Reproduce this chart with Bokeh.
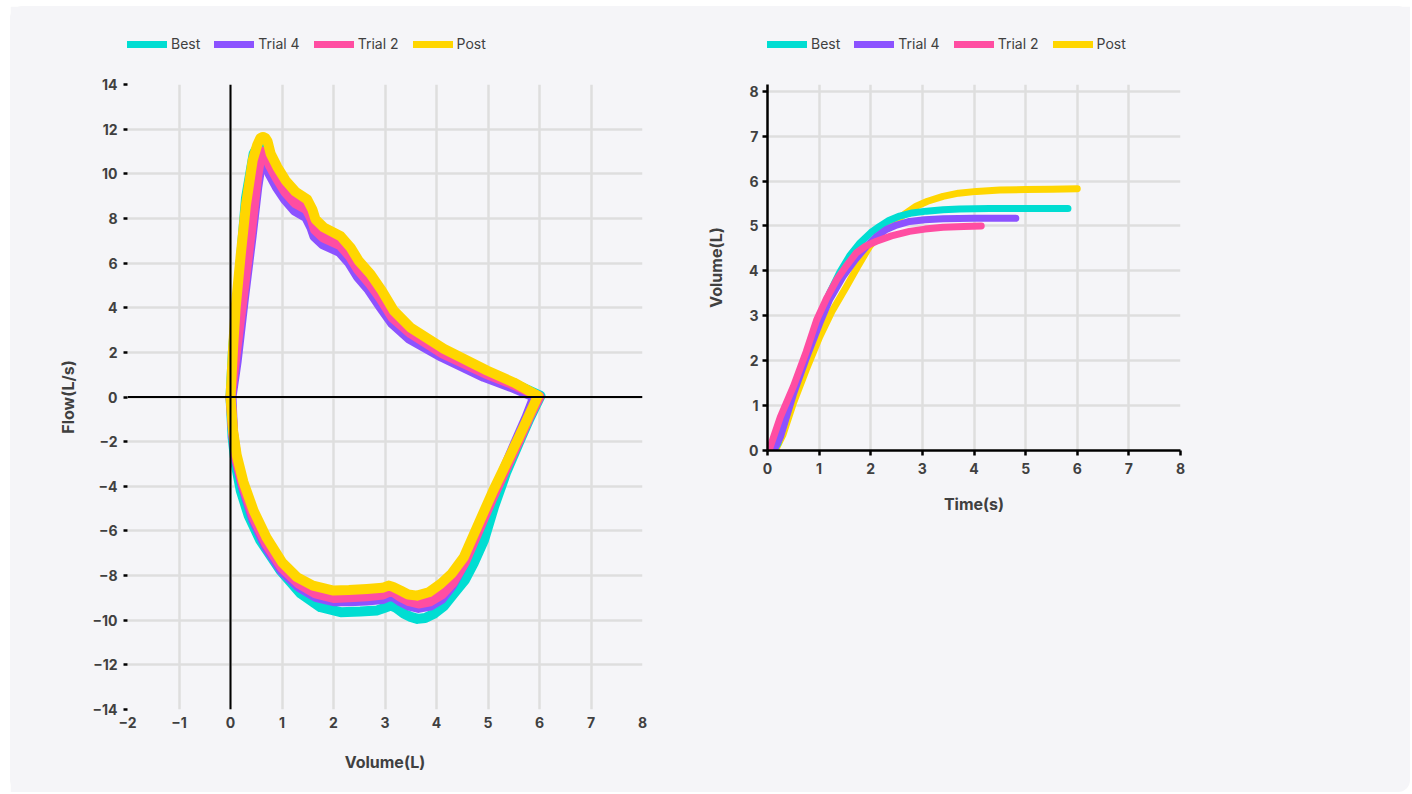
from bokeh.plotting import figure
from bokeh.models import Legend, LegendItem, Span, SingleIntervalTicker, FixedTicker, Range1d
from bokeh.layouts import row, column
from bokeh.embed import file_html
from bokeh.resources import INLINE

# ---------------- data ----------------
series_names = ["Best", "Trial 4", "Trial 2", "Post"]
series_colors = ["#00DDD2", "#8C52FF", "#FF4DA2", "#FFD600"]

# Flow-volume loops: expiration (0 -> ~6 L) then inspiration (back to 0)
best_vol = [0, 0.05, 0.14, 0.3, 0.45, 0.56, 0.63, 0.71, 0.78, 0.92, 1.08, 1.27, 1.5, 1.6, 1.67, 1.83, 2.15, 2.35, 2.5,
            2.73, 2.95, 3.2, 3.55, 4.15, 5.0, 5.5, 6.02,
            5.8, 5.6, 5.35, 5.12, 4.92, 4.72, 4.55, 4.34, 4.15, 3.95, 3.78, 3.63, 3.5, 3.37, 3.22, 3.11, 2.98, 2.85,
            2.52, 2.14, 1.75, 1.36, 0.97, 0.58, 0.35, 0.2, 0.1, 0.04, 0]
best_flow = [0, 2.2, 4.4, 8.9, 10.9, 11.35, 11.4, 11.2, 10.6, 10.0, 9.4, 8.9, 8.55, 8.1, 7.65, 7.3, 6.95, 6.45, 5.85,
             5.3, 4.55, 3.7, 2.95, 2.05, 1.1, 0.6, 0.05,
             -1.0, -2.05, -3.4, -4.9, -6.43, -7.46, -8.2, -8.8, -9.35, -9.71, -9.9, -9.94, -9.85, -9.71, -9.45, -9.34,
             -9.45, -9.56, -9.61, -9.64, -9.42, -8.8, -7.77, -6.43, -5.3, -4.2, -3.0, -1.8, 0]

trial4_vol = [0.02, 0.12, 0.26, 0.41, 0.52, 0.6, 0.68, 0.76, 0.9, 1.06, 1.25, 1.47, 1.57, 1.63, 1.79, 2.12, 2.31, 2.47,
              2.69, 2.91, 3.14, 3.48, 4.1, 4.92, 5.45, 5.9,
              5.75, 5.55, 5.3, 5.05, 4.8, 4.5, 4.3, 4.1, 3.88, 3.65, 3.47, 3.3, 3.17, 3.08, 2.96, 2.65, 2.3, 2.0, 1.65,
              1.32, 1.0, 0.7, 0.45, 0.25, 0.12, 0.05, 0.02]
trial4_flow = [0, 1.6, 4.4, 7.2, 9.4, 10.6, 10.55, 10.0, 9.4, 8.85, 8.35, 8.05, 7.6, 7.2, 6.85, 6.5, 6.0, 5.4,
               4.8, 4.05, 3.3, 2.6, 1.8, 0.9, 0.45, 0.0,
               -0.9, -1.95, -3.3, -4.6, -6.0, -7.6, -8.45, -9.05, -9.35, -9.45, -9.35, -9.15, -8.95, -8.92, -9.05,
               -9.12, -9.15, -9.15, -8.95, -8.5, -7.8, -6.75, -5.55, -4.1, -2.9, -1.7, 0]

trial2_vol = [0, 0.1, 0.25, 0.4, 0.52, 0.6, 0.68, 0.76, 0.9, 1.06, 1.25, 1.48, 1.58, 1.64, 1.8, 2.13, 2.32, 2.48, 2.7,
              2.92, 3.15, 3.5, 4.12, 4.95, 5.5, 6.0,
              5.8, 5.6, 5.35, 5.1, 4.85, 4.55, 4.32, 4.1, 3.88, 3.65, 3.47, 3.3, 3.17, 3.08, 2.96, 2.65, 2.3, 2.0,
              1.65, 1.32, 1.0, 0.7, 0.45, 0.25, 0.12, 0.05, 0]
trial2_flow = [0, 1.9, 4.7, 7.5, 9.9, 11.0, 10.95, 10.4, 9.8, 9.2, 8.7, 8.4, 7.95, 7.5, 7.15, 6.8, 6.3, 5.7, 5.1,
               4.4, 3.55, 2.85, 1.95, 1.05, 0.55, 0.02,
               -0.9, -1.95, -3.2, -4.45, -5.8, -7.4, -8.3, -8.85, -9.15, -9.25, -9.15, -8.95, -8.75, -8.72, -8.85,
               -8.93, -8.97, -9.0, -8.8, -8.35, -7.65, -6.6, -5.4, -4.0, -2.8, -1.6, 0]

post_vol = [0, 0.05, 0.1, 0.2, 0.3, 0.43, 0.52, 0.58, 0.63, 0.68, 0.72, 0.78, 0.91, 1.07, 1.26, 1.49, 1.59, 1.65,
            1.81, 2.14, 2.33, 2.49, 2.72, 2.94, 3.17, 3.5, 4.14, 4.98, 5.5, 5.97,
            5.8, 5.6, 5.35, 5.1, 4.85, 4.53, 4.3, 4.08, 3.85, 3.62, 3.45, 3.3, 3.15, 3.07, 2.95, 2.65, 2.3, 2.0, 1.6,
            1.29, 1.0, 0.7, 0.45, 0.25, 0.12, 0.05, 0]
post_flow = [0, 2.2, 4.0, 6.4, 8.6, 10.6, 11.3, 11.6, 11.65, 11.6, 11.45, 10.9, 10.3, 9.7, 9.2, 8.85, 8.4, 7.96,
             7.6, 7.2, 6.7, 6.1, 5.5, 4.76, 3.87, 3.1, 2.16, 1.19, 0.65, 0.05,
             -0.8, -1.8, -3.0, -4.2, -5.5, -7.18, -7.9, -8.37, -8.75, -8.9, -8.85, -8.67, -8.5, -8.45, -8.55, -8.6,
             -8.65, -8.67, -8.45, -8.07, -7.4, -6.3, -5.1, -3.8, -2.6, -1.5, 0]

# Volume-time curves
best_time = [0.12, 0.2, 0.5, 0.75, 1.0, 1.2, 1.4, 1.6, 1.79, 2.0, 2.17, 2.35, 2.56, 2.8, 3.08, 3.4, 3.72, 4.3, 5.0, 5.82]
best_tvol = [0, 0.15, 1.3, 2.15, 2.95, 3.5, 3.97, 4.35, 4.62, 4.85, 4.99, 5.12, 5.22, 5.29, 5.33, 5.36, 5.38, 5.39,
             5.39, 5.39]

trial4_time = [0.12, 0.25, 0.5, 0.75, 1.01, 1.2, 1.46, 1.7, 1.92, 2.1, 2.3, 2.5, 2.75, 3.05, 3.4, 4.0, 4.81]
trial4_tvol = [0, 0.3, 1.25, 2.05, 2.83, 3.35, 3.87, 4.25, 4.55, 4.75, 4.92, 5.02, 5.1, 5.14, 5.16, 5.17, 5.17]

trial2_time = [0.03, 0.25, 0.5, 0.75, 0.95, 1.15, 1.34, 1.52, 1.72, 1.9, 2.11, 2.4, 2.75, 3.05, 3.4, 3.8, 4.14]
trial2_tvol = [0, 0.75, 1.42, 2.2, 2.9, 3.4, 3.8, 4.1, 4.4, 4.55, 4.66, 4.78, 4.88, 4.93, 4.97, 4.99, 5.0]

post_time = [0.15, 0.3, 0.5, 0.75, 1.01, 1.25, 1.53, 1.75, 1.98, 2.2, 2.43, 2.69, 2.88, 3.1, 3.4, 3.7, 4.05, 4.5, 5.0,
             5.5, 6.0]
post_tvol = [0, 0.35, 1.05, 1.8, 2.53, 3.1, 3.65, 4.1, 4.55, 4.85, 5.07, 5.29, 5.44, 5.55, 5.66, 5.73, 5.77, 5.8,
             5.81, 5.82, 5.83]

loop_x = [best_vol, trial4_vol, trial2_vol, post_vol]
loop_y = [best_flow, trial4_flow, trial2_flow, post_flow]
vt_x = [best_time, trial4_time, trial2_time, post_time]
vt_y = [best_tvol, trial4_tvol, trial2_tvol, post_tvol]

# ---------------- style ----------------
BG = "#f5f5f8"
FONT = "Inter"
TXT = "#404040"
GRID = "#dedede"
NAN = float("nan")


def legend_figure(width, border_left, border_right):
    lf = figure(width=width, height=50, x_range=Range1d(0, 1), y_range=Range1d(0, 1),
                output_backend="svg", toolbar_location=None, x_axis_type=None, y_axis_type=None,
                min_border_left=border_left, min_border_right=border_right,
                min_border_top=0, min_border_bottom=0,
                background_fill_color=BG, border_fill_color=BG, outline_line_color=None)
    lf.xgrid.visible = False
    lf.ygrid.visible = False
    items = []
    for n, c in zip(series_names, series_colors):
        r = lf.line([NAN], [NAN], line_color=c, line_width=7, line_cap="round")
        items.append(LegendItem(label=n, renderers=[r]))
    leg = Legend(items=items, orientation="horizontal", location=(0, 4))
    leg.border_line_color = None
    leg.background_fill_alpha = 0
    leg.label_text_font = FONT
    leg.label_text_font_size = "14px"
    leg.label_text_color = TXT
    leg.glyph_width = 40
    leg.glyph_height = 16
    leg.label_standoff = 4
    leg.spacing = 14
    leg.padding = 0
    leg.margin = 0
    lf.add_layout(leg, "center")
    return lf


def style_axis(ax):
    ax.major_label_text_font = FONT
    ax.major_label_text_font_size = "14px"
    ax.major_label_text_font_style = "bold"
    ax.major_label_text_color = TXT
    ax.axis_label_text_font = FONT
    ax.axis_label_text_font_size = "16px"
    ax.axis_label_text_font_style = "bold"
    ax.axis_label_text_color = TXT
    ax.minor_tick_line_color = None


# ---------------- left: flow-volume ----------------
p1 = figure(width=690, height=736, x_range=Range1d(-2, 8), y_range=Range1d(-14, 14),
            output_backend="svg", toolbar_location=None,
            min_border_left=117, min_border_right=58, min_border_top=28, min_border_bottom=83,
            background_fill_color=BG, border_fill_color=BG, outline_line_color=None)
p1.xgrid.ticker = FixedTicker(ticks=list(range(-2, 8)))
p1.ygrid.ticker = FixedTicker(ticks=list(range(-12, 13, 2)))
for g in (p1.xgrid, p1.ygrid):
    g.grid_line_color = GRID
    g.grid_line_width = 2.5

p1.add_layout(Span(location=0, dimension="height", line_color="black", line_width=2))
p1.add_layout(Span(location=0, dimension="width", line_color="black", line_width=2))

for xs, ys, c in zip(loop_x, loop_y, series_colors):
    p1.line(xs, ys, line_color=c, line_width=10, line_cap="round", line_join="round")

p1.xaxis.ticker = SingleIntervalTicker(interval=1)
p1.yaxis.ticker = SingleIntervalTicker(interval=2)
style_axis(p1.xaxis[0])
style_axis(p1.yaxis[0])
p1.xaxis.axis_line_color = None
p1.xaxis.major_tick_line_color = None
p1.xaxis.major_label_standoff = 1
p1.xaxis.axis_label = "Volume(L)"
p1.xaxis.axis_label_standoff = 21
p1.yaxis.axis_line_color = None
p1.yaxis.major_tick_line_color = "black"
p1.yaxis.major_tick_line_width = 2.5
p1.yaxis.major_tick_out = 4
p1.yaxis.major_tick_in = 0
p1.yaxis.major_label_standoff = 6
p1.yaxis.axis_label = "Flow(L/s)"
p1.yaxis.axis_label_standoff = 11

# ---------------- right: volume-time ----------------
p2 = figure(width=710, height=472, x_range=Range1d(0, 8), y_range=Range1d(0, 8.15),
            output_backend="svg", toolbar_location=None,
            min_border_left=67, min_border_right=230, min_border_top=28, min_border_bottom=78,
            background_fill_color=BG, border_fill_color=BG, outline_line_color=None)
p2.xgrid.ticker = FixedTicker(ticks=list(range(1, 8)))
p2.ygrid.ticker = FixedTicker(ticks=list(range(1, 9)))
for g in (p2.xgrid, p2.ygrid):
    g.grid_line_color = GRID
    g.grid_line_width = 2.5

for idx in [3, 0, 1, 2]:
    p2.line(vt_x[idx], vt_y[idx], line_color=series_colors[idx], line_width=7,
            line_cap="round", line_join="round")

p2.xaxis.ticker = SingleIntervalTicker(interval=1)
p2.yaxis.ticker = SingleIntervalTicker(interval=1)
for ax in (p2.xaxis[0], p2.yaxis[0]):
    style_axis(ax)
    ax.axis_line_color = "black"
    ax.axis_line_width = 2.5
    ax.major_tick_line_color = "black"
    ax.major_tick_line_width = 2.5
    ax.major_tick_out = 5
    ax.major_tick_in = 0
    ax.major_label_standoff = 4
p2.xaxis.major_label_standoff = 7
p2.xaxis.axis_label = "Time(s)"
p2.xaxis.axis_label_standoff = 17
p2.yaxis.axis_label = "Volume(L)"
p2.yaxis.axis_label_standoff = 20

leg_fig1 = legend_figure(690, 117, 58)
leg_fig2 = legend_figure(710, 67, 230)

layout = row(column(leg_fig1, p1), column(leg_fig2, p2),
             styles={"background-color": BG, "border-radius": "12px",
                     "margin-left": "10px", "margin-top": "6px"})

open("out.html", "w").write(file_html(layout, INLINE))
